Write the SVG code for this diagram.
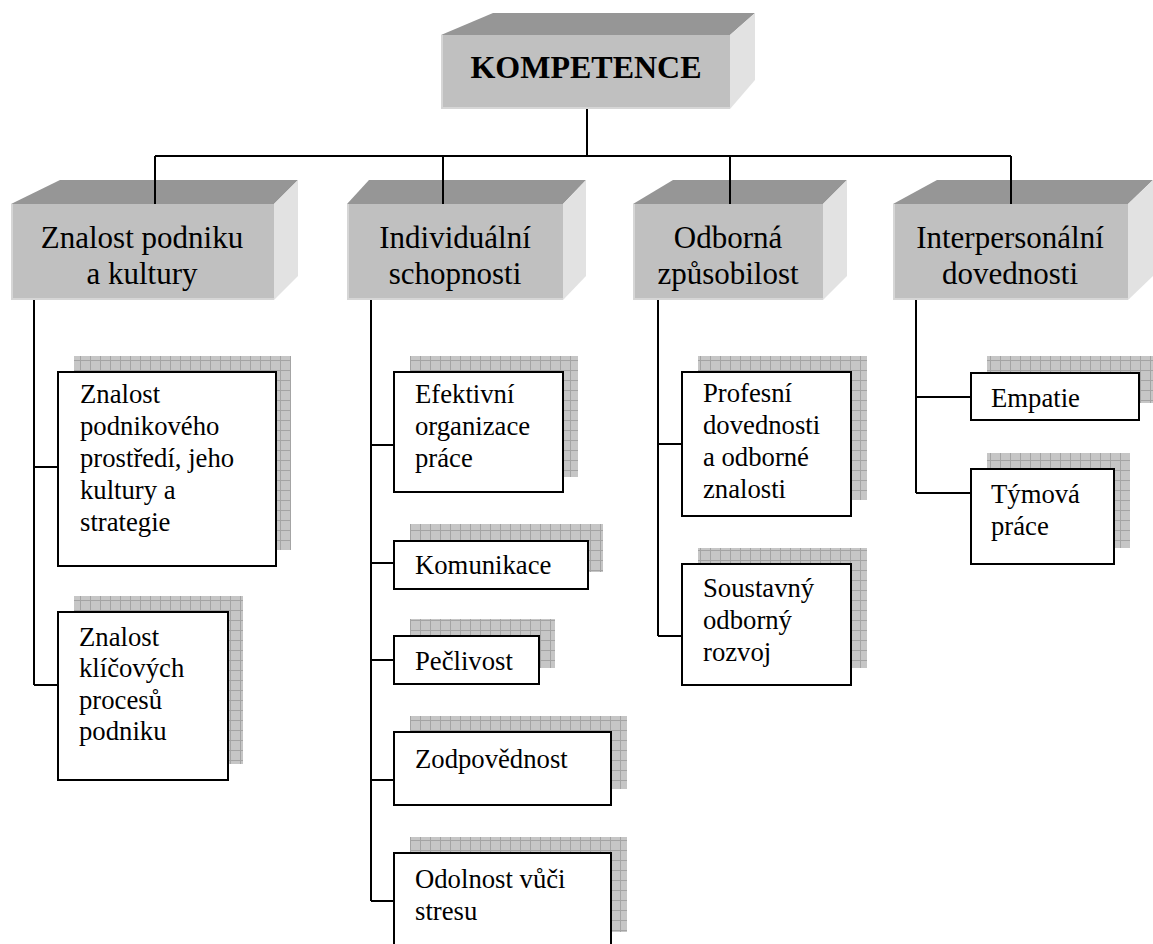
<svg xmlns="http://www.w3.org/2000/svg" width="1153" height="944" viewBox="0 0 1153 944">
<style>
.front{fill:#c0c0c0}
.edge{fill:none;stroke:#d6d6d6;stroke-width:2}
.top{fill:#969696}
.side{fill:#e2e2e2}
.t1{font-family:"Liberation Serif","Times New Roman",serif;font-size:32px;font-weight:bold;fill:#000;text-anchor:middle}
.t2{font-family:"Liberation Serif","Times New Roman",serif;font-size:31px;fill:#000;text-anchor:middle}
.t3{font-family:"Liberation Serif","Times New Roman",serif;font-size:26.7px;fill:#000}
.box{fill:#fff;stroke:#000;stroke-width:2}
.shadow{fill:url(#grid)}
.con{fill:none;stroke:#000;stroke-width:2}
</style>
<defs>
<pattern id="grid" width="10" height="10" patternUnits="userSpaceOnUse">
<rect width="10" height="10" fill="#c6c6c6"/>
<path d="M0 0.5H10M0.5 0V10" stroke="#a4a4a4" stroke-width="1"/>
</pattern>
</defs>
<rect width="1153" height="944" fill="#fff"/>

<g id="kompetence">
<polygon class="top" points="441,35 493,13 755,13 730,35"/>
<polygon class="side" points="730,35 755,13 755,80 730,109"/>
<rect class="front" x="441" y="35" width="289" height="74"/>
<path class="edge" d="M442 35V108H730"/>
<text class="t1" x="586" y="78">KOMPETENCE</text>
</g>

<g id="znalost-podniku">
<polygon class="top" points="11,204 60,180 298,180 274,204"/>
<polygon class="side" points="274,204 298,180 298,276 274,300"/>
<rect class="front" x="11" y="204" width="263" height="96"/>
<path class="edge" d="M12 204V299H274"/>
<text class="t2" x="142" y="248">Znalost podniku</text>
<text class="t2" x="142" y="284">a kultury</text>
</g>

<g id="individualni">
<polygon class="top" points="347,204 369,180 586,180 563,204"/>
<polygon class="side" points="563,204 586,180 586,276 563,300"/>
<rect class="front" x="347" y="204" width="216" height="96"/>
<path class="edge" d="M348 204V299H563"/>
<text class="t2" x="455" y="248">Individuální</text>
<text class="t2" x="455" y="284">schopnosti</text>
</g>

<g id="odborna">
<polygon class="top" points="633,204 673,180 847,180 823,204"/>
<polygon class="side" points="823,204 847,180 847,276 823,300"/>
<rect class="front" x="633" y="204" width="190" height="96"/>
<path class="edge" d="M634 204V299H823"/>
<text class="t2" x="728" y="248">Odborná</text>
<text class="t2" x="728" y="284">způsobilost</text>
</g>

<g id="interpersonalni">
<polygon class="top" points="893,204 937,180 1153,180 1128,204"/>
<polygon class="side" points="1128,204 1153,180 1153,276 1128,300"/>
<rect class="front" x="893" y="204" width="235" height="96"/>
<path class="edge" d="M894 204V299H1128"/>
<text class="t2" x="1010" y="248">Interpersonální</text>
<text class="t2" x="1010" y="284">dovednosti</text>
</g>

<g id="znalost-prostredi">
<rect class="shadow" x="74" y="356" width="217" height="194"/>
<rect class="box" x="58" y="372" width="218" height="194"/>
<text class="t3" x="80" y="403">Znalost</text>
<text class="t3" x="80" y="435">podnikového</text>
<text class="t3" x="80" y="467">prostředí, jeho</text>
<text class="t3" x="80" y="499">kultury a</text>
<text class="t3" x="80" y="531">strategie</text>
</g>

<g id="znalost-procesu">
<rect class="shadow" x="74" y="596" width="169" height="168"/>
<rect class="box" x="58" y="612" width="170" height="168"/>
<text class="t3" x="79" y="646">Znalost</text>
<text class="t3" x="79" y="677">klíčových</text>
<text class="t3" x="79" y="709">procesů</text>
<text class="t3" x="79" y="740">podniku</text>
</g>

<g id="efektivni">
<rect class="shadow" x="410" y="356" width="168" height="121"/>
<rect class="box" x="394" y="372" width="169" height="120"/>
<text class="t3" x="415" y="403">Efektivní</text>
<text class="t3" x="415" y="435">organizace</text>
<text class="t3" x="415" y="467">práce</text>
</g>

<g id="komunikace">
<rect class="shadow" x="410" y="524" width="193" height="48"/>
<rect class="box" x="394" y="541" width="194" height="48"/>
<text class="t3" x="415" y="574">Komunikace</text>
</g>

<g id="peclivost">
<rect class="shadow" x="410" y="619" width="145" height="49"/>
<rect class="box" x="394" y="636" width="145" height="48"/>
<text class="t3" x="415" y="670">Pečlivost</text>
</g>

<g id="zodpovednost">
<rect class="shadow" x="410" y="716" width="217" height="73"/>
<rect class="box" x="394" y="732" width="217" height="73"/>
<text class="t3" x="415" y="768">Zodpovědnost</text>
</g>

<g id="odolnost">
<rect class="shadow" x="410" y="837" width="217" height="95"/>
<rect class="box" x="394" y="853" width="217" height="100"/>
<text class="t3" x="415" y="888">Odolnost vůči</text>
<text class="t3" x="415" y="920">stresu</text>
</g>

<g id="profesni">
<rect class="shadow" x="698" y="356" width="169" height="144"/>
<rect class="box" x="682" y="372" width="169" height="144"/>
<text class="t3" x="703" y="402">Profesní</text>
<text class="t3" x="703" y="434">dovednosti</text>
<text class="t3" x="703" y="466">a odborné</text>
<text class="t3" x="703" y="498">znalosti</text>
</g>

<g id="soustavny">
<rect class="shadow" x="698" y="548" width="169" height="120"/>
<rect class="box" x="682" y="564" width="169" height="121"/>
<text class="t3" x="703" y="597">Soustavný</text>
<text class="t3" x="703" y="629">odborný</text>
<text class="t3" x="703" y="661">rozvoj</text>
</g>

<g id="empatie">
<rect class="shadow" x="987" y="356" width="166" height="47"/>
<rect class="box" x="971" y="373" width="168" height="47"/>
<text class="t3" x="991" y="407">Empatie</text>
</g>

<g id="tymova">
<rect class="shadow" x="987" y="453" width="143" height="95"/>
<rect class="box" x="971" y="469" width="143" height="95"/>
<text class="t3" x="991" y="503">Týmová</text>
<text class="t3" x="991" y="535">práce</text>
</g>

<g id="connectors">
<path class="con" d="M587 109V156M155 156H1011M155 156V204M443 156V204M730 156V204M1011 156V204"/>
<path class="con" d="M34 300V685M34 467H58M34 685H58"/>
<path class="con" d="M371 300V901M371 445H394M371 563H394M371 660H394M371 780H394M371 901H394"/>
<path class="con" d="M658 300V636M658 444H682M658 636H682"/>
<path class="con" d="M916 300V493M916 397H971M916 493H971"/>
</g>
</svg>
